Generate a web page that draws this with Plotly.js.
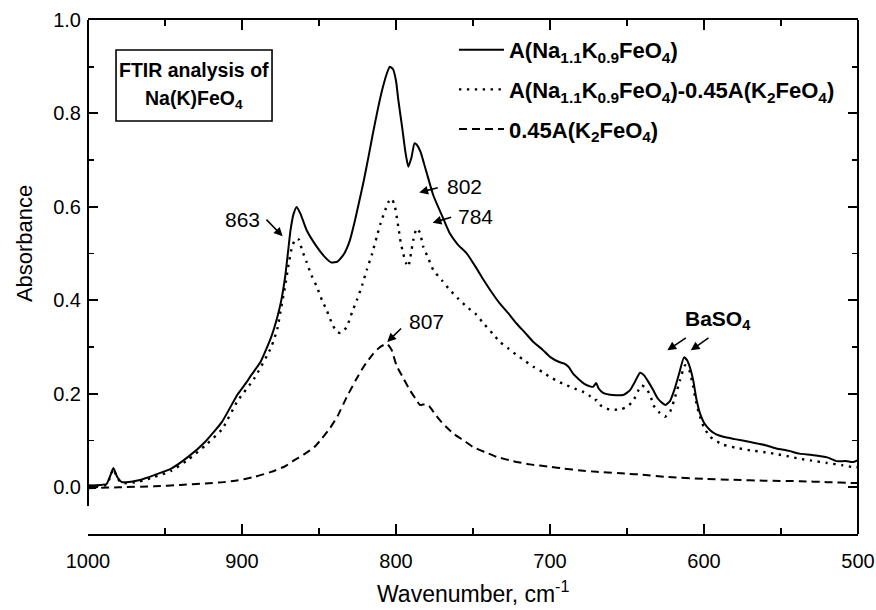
<!DOCTYPE html>
<html><head><meta charset="utf-8">
<script src="https://cdn.plot.ly/plotly-3.0.1.min.js"></script>
<style>html,body{margin:0;padding:0;background:#fff}#chart{width:876px;height:610px}</style>
</head><body><div id="chart"></div>
<script>
// Series 1: A(Na1.1K0.9FeO4)
const wnA = [1000,992,988,985.5,983.5,981,978,972,967,957,946,935,924,913,903,897,894,888,881,877,874.5,872,870,868.5,866.5,864.5,862,858,851.5,846,842,838,834,830,827,824,821,818,815,812,809,806,804,802,800,798.5,796,794,792,790,788,786.5,784,782,780,775.8,769.3,765,760,754,748,743,738,732.5,727,721.6,716,710.8,705,700,694,691,688,685,681,678,674,672,670,668.5,665.5,661,657,652,648,645,641.5,639,636,633,630,627,625,622,619,616,613,611,609,607,605,602.6,600,596,592,587.5,580,570,560,553,545,538,530,520,514,508,503,500];
const absA = [0.004,0.005,0.007,0.025,0.041,0.022,0.011,0.012,0.015,0.026,0.040,0.065,0.097,0.140,0.198,0.225,0.240,0.268,0.322,0.365,0.400,0.450,0.507,0.550,0.585,0.600,0.585,0.550,0.515,0.492,0.481,0.483,0.498,0.528,0.566,0.610,0.655,0.705,0.757,0.806,0.850,0.885,0.900,0.895,0.870,0.829,0.770,0.720,0.686,0.705,0.736,0.733,0.717,0.695,0.672,0.625,0.575,0.543,0.520,0.500,0.470,0.443,0.418,0.393,0.372,0.350,0.330,0.311,0.295,0.279,0.268,0.265,0.258,0.243,0.230,0.222,0.216,0.215,0.223,0.212,0.202,0.198,0.197,0.198,0.208,0.225,0.245,0.240,0.225,0.208,0.190,0.180,0.176,0.185,0.211,0.245,0.278,0.272,0.255,0.229,0.190,0.158,0.138,0.122,0.113,0.108,0.103,0.097,0.090,0.083,0.078,0.072,0.069,0.064,0.056,0.056,0.054,0.058];

// Series 2: A(Na1.1K0.9FeO4) - 0.45A(K2FeO4)
const wnDiff = [1000,988,985.5,983.5,981,978,967,957,946,935,924,913,903,892,881,877,874.5,872,870,867.5,865,863,861,858,855.5,851.5,848,845,841.5,838.5,836,832,828.5,825.5,822,819,815.5,812.5,810,807,805,803,801,798.5,797,795.3,793.5,792,790.3,788.8,786.6,784.5,782.3,779,775.8,770,765,760,754,748,743,737,732.5,727,721.6,716,710.8,705,700,695,689,684,678.4,674,671,669.7,667,663,659,654,650,646,643,640.5,638,635,632.9,629,625.3,622,618.8,615.5,612.3,610,607,605,602.6,600,596,590,587.5,580,570,560,553,545,538,530,520,510,503,500];
const absDiff = [0.003,0.005,0.023,0.039,0.020,0.009,0.012,0.022,0.035,0.059,0.089,0.124,0.184,0.233,0.300,0.340,0.386,0.430,0.472,0.515,0.532,0.530,0.507,0.482,0.458,0.430,0.400,0.379,0.350,0.333,0.330,0.343,0.375,0.400,0.432,0.465,0.500,0.536,0.565,0.593,0.610,0.618,0.605,0.557,0.525,0.500,0.480,0.472,0.500,0.529,0.554,0.545,0.515,0.490,0.465,0.442,0.422,0.405,0.386,0.370,0.350,0.328,0.311,0.297,0.283,0.270,0.258,0.247,0.236,0.227,0.218,0.211,0.204,0.195,0.186,0.187,0.175,0.168,0.166,0.167,0.172,0.185,0.205,0.218,0.213,0.198,0.176,0.160,0.151,0.162,0.193,0.230,0.261,0.255,0.215,0.180,0.151,0.128,0.108,0.095,0.091,0.085,0.079,0.075,0.071,0.066,0.061,0.057,0.052,0.047,0.043,0.043];

// Series 3: 0.45A(K2FeO4)
const wnK = [1000,980,957,940,924,912,902.6,892,881,872,866,860,853,848,843,838,832,826,821,815,810.4,806,803,799.6,795,791,787,784.4,781,778,775,771.4,767,762.8,756,749.8,742,734.6,724,713,700,691,680,669.7,650,640,624,600,581,560,537.7,520,503,500];
const absK = [-0.002,0.0,0.002,0.005,0.008,0.011,0.015,0.022,0.033,0.045,0.058,0.070,0.086,0.105,0.126,0.152,0.193,0.230,0.258,0.285,0.300,0.307,0.295,0.260,0.232,0.208,0.188,0.176,0.178,0.172,0.158,0.143,0.128,0.115,0.100,0.086,0.075,0.065,0.056,0.049,0.044,0.040,0.036,0.033,0.029,0.027,0.022,0.018,0.016,0.014,0.013,0.011,0.009,0.009];

const seriesNames = [
  "A(Na<sub>1.1</sub>K<sub>0.9</sub>FeO<sub>4</sub>)",
  "A(Na<sub>1.1</sub>K<sub>0.9</sub>FeO<sub>4</sub>)-0.45A(K<sub>2</sub>FeO<sub>4</sub>)",
  "0.45A(K<sub>2</sub>FeO<sub>4</sub>)"
];
const xTickVals = [1000,900,800,700,600,500];
const xTickText = ["1000","900","800","700","600","500"];
const yTickVals = [0,0.2,0.4,0.6,0.8,1.0];
const yTickText = ["0.0","0.2","0.4","0.6","0.8","1.0"];
const boxLines = ["FTIR analysis of", "Na(K)FeO<sub>4</sub>"];

const FONT = "Liberation Sans, Arial, Helvetica, sans-serif";

const traces = [
  {x: wnA, y: absA, name: seriesNames[0], mode: "lines", legendgroup: "g1",
   line: {color: "#000", width: 2, shape: "spline", smoothing: 0.5}},
  {x: wnDiff, y: absDiff, name: seriesNames[1], mode: "lines", legendgroup: "g2",
   line: {color: "#000", width: 2.4, dash: "2.4px,5.5px", shape: "spline", smoothing: 0.5}},
  {x: wnK, y: absK, name: seriesNames[2], mode: "lines", legendgroup: "g3",
   line: {color: "#000", width: 2, dash: "8px,5px", shape: "spline", smoothing: 0.5}}
];

function arrow(x, y, ax, ay) {
  return {x: x, y: y, ax: ax, ay: ay, xref: "x", yref: "y", axref: "x", ayref: "y",
    text: " ", font: {size: 1}, showarrow: true, arrowhead: 2, arrowsize: 1.1, arrowwidth: 1.6,
    arrowcolor: "#000", standoff: 0, startstandoff: 0};
}
function label(x, y, text, bold) {
  return {x: x, y: y, xref: "x", yref: "y", text: text, showarrow: false,
    font: {family: FONT, size: 21, color: "#000", weight: bold ? "bold" : "normal"},
    xanchor: "center", yanchor: "middle"};
}
function boxText(y, text) {
  return {xref: "paper", yref: "paper", x: 0.1377, y: y, xanchor: "center", yanchor: "middle",
    text: text, showarrow: false,
    font: {family: FONT, size: 19.5, color: "#000", weight: "bold"}};
}

const layout = {
  width: 876, height: 610,
  margin: {l: 88, r: 18, t: 20, b: 76},
  paper_bgcolor: "#fff", plot_bgcolor: "#fff",
  font: {family: FONT, color: "#000"},
  showlegend: true,
  legend: {x: 0.4753, y: 0.9825, xanchor: "left", yanchor: "top",
    traceorder: "grouped", tracegroupgap: 8, itemwidth: 45,
    bgcolor: "rgba(0,0,0,0)", borderwidth: 0,
    font: {family: FONT, size: 22, color: "#000", weight: "bold"}},
  xaxis: {range: [1000, 500], tickvals: xTickVals, ticktext: xTickText,
    ticks: "inside", ticklen: 10, tickwidth: 2, tickcolor: "#000",
    minor: {dtick: 50, tick0: 0, ticks: "inside", ticklen: 6, tickwidth: 1.6, tickcolor: "#000"},
    showline: true, linewidth: 2, linecolor: "#000", mirror: "ticks",
    showgrid: false, zeroline: false, ticklabelstandoff: 8,
    tickfont: {family: FONT, size: 20, color: "#000"}},
  yaxis: {range: [-0.1, 1.0], tickvals: yTickVals, ticktext: yTickText,
    ticks: "inside", ticklen: 10, tickwidth: 2, tickcolor: "#000",
    minor: {dtick: 0.1, tick0: 0, ticks: "inside", ticklen: 6, tickwidth: 1.6, tickcolor: "#000"},
    showline: false, mirror: "ticks",
    showgrid: false, zeroline: false, ticklabelstandoff: 6,
    tickfont: {family: FONT, size: 20, color: "#000"}},
  shapes: [
    {type: "line", xref: "paper", yref: "y", x0: 0, x1: 0, y0: -0.04, y1: 1.0,
     line: {color: "#000", width: 2}},
    {type: "line", xref: "paper", yref: "paper", x0: 1, x1: 1, y0: 0, y1: 1,
     line: {color: "#000", width: 2}},
    {type: "rect", xref: "paper", yref: "paper", x0: 0.0364, x1: 0.239, y0: 0.8035, y1: 0.9416,
     line: {color: "#000", width: 1.6}, fillcolor: "rgba(0,0,0,0)"}
  ],
  annotations: [
    boxText(0.9027, boxLines[0]),
    boxText(0.8444, boxLines[1]),
    {xref: "paper", yref: "paper", x: -0.0831, y: 0.564, xanchor: "center", yanchor: "middle",
     text: "Absorbance", textangle: -90, showarrow: false,
     font: {family: FONT, size: 22, color: "#000"}},
    {xref: "paper", yref: "paper", x: 0.5, y: -0.112, xanchor: "center", yanchor: "middle",
     text: "Wavenumber, cm<sup>-1</sup>", showarrow: false,
     font: {family: FONT, size: 23, color: "#000"}},
    label(899.4, 0.572, "863", false),
    arrow(873.6, 0.537, 885.1, 0.576),
    label(755.2, 0.643, "802", false),
    arrow(784.9, 0.631, 771.9, 0.642),
    label(748.2, 0.579, "784", false),
    arrow(776.2, 0.566, 763.2, 0.579),
    label(780.5, 0.354, "807", false),
    arrow(805.7, 0.311, 795.7, 0.343),
    label(590.9, 0.358, "BaSO<sub>4</sub>", true),
    arrow(623.8, 0.293, 610.8, 0.322),
    arrow(608.6, 0.293, 596.1, 0.322)
  ]
};

Plotly.newPlot("chart", traces, layout, {displayModeBar: false, staticPlot: true});
</script>
</body></html>
